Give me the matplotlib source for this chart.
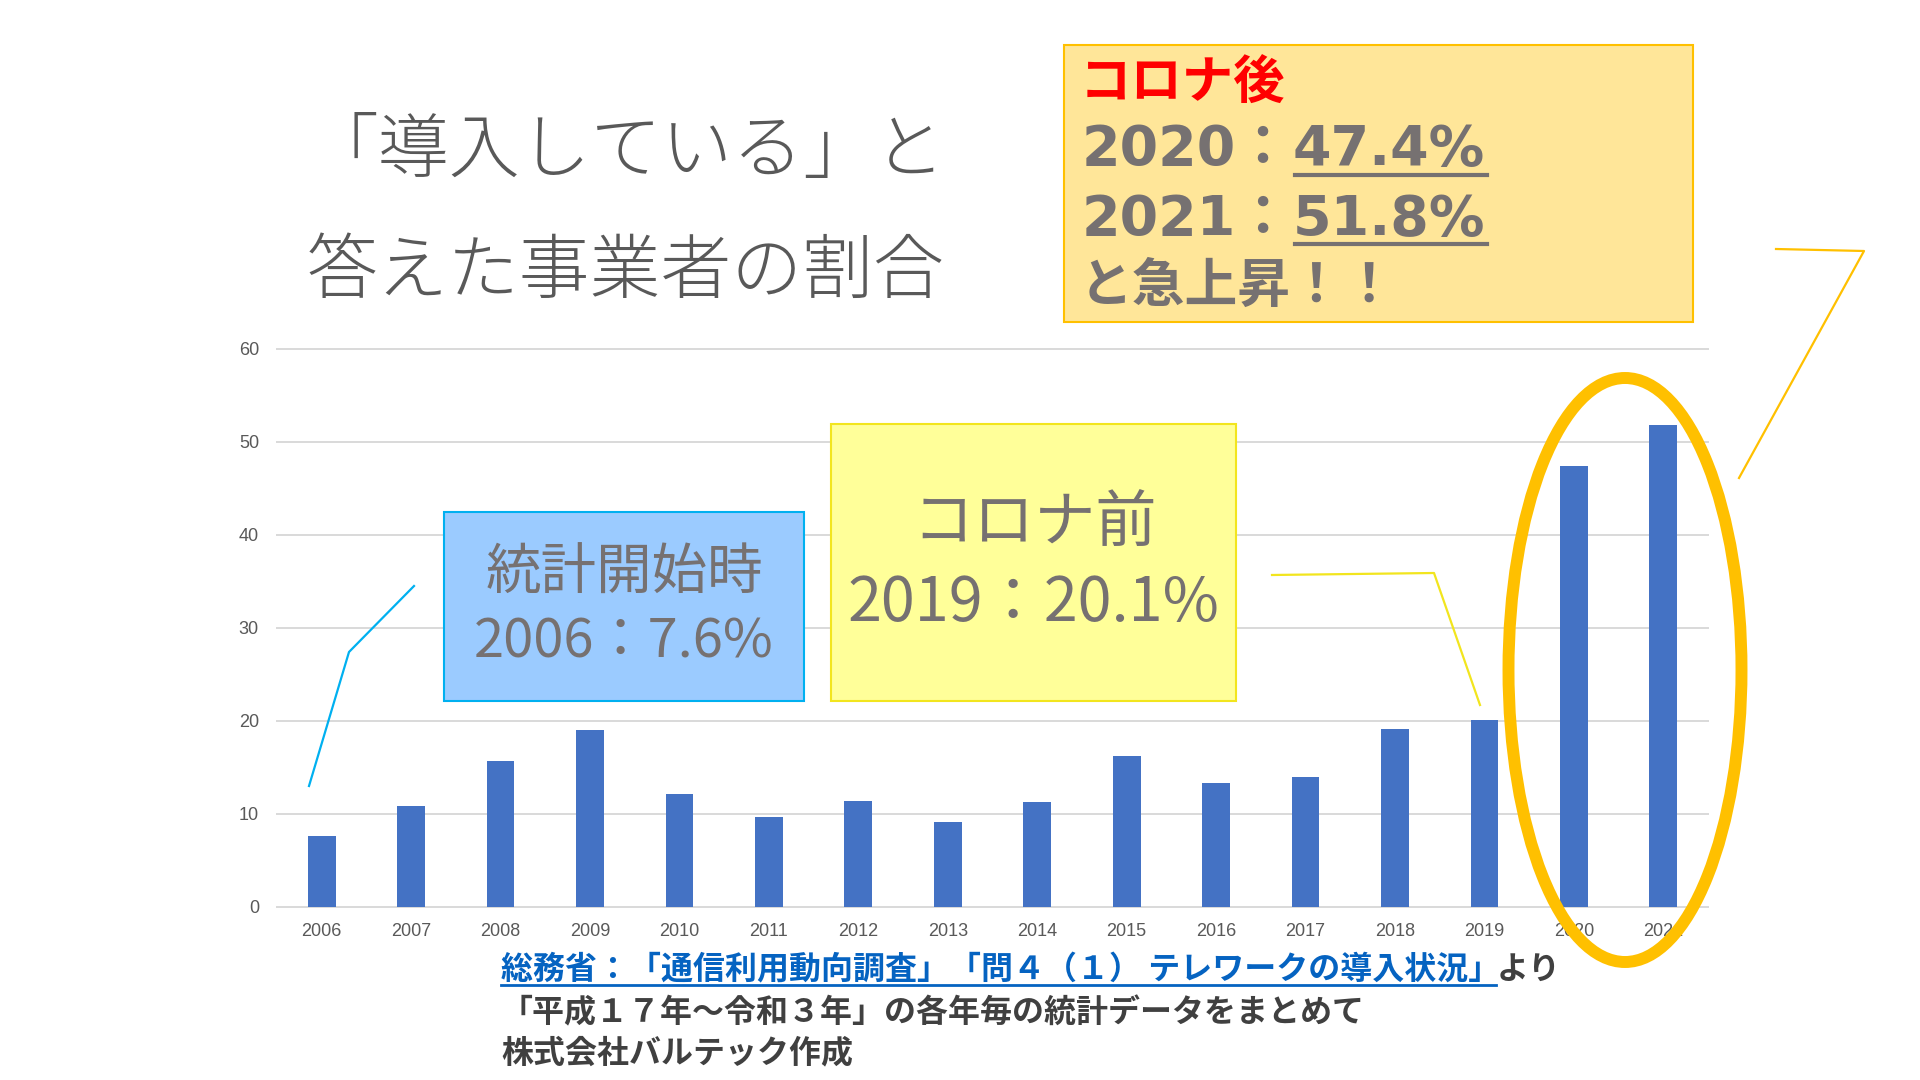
import matplotlib
matplotlib.use("Agg")
import matplotlib.pyplot as plt
from matplotlib.patches import Rectangle, Ellipse

# データ（テレワーク導入率 %）
years = ['2006', '2007', '2008', '2009', '2010', '2011', '2012', '2013',
         '2014', '2015', '2016', '2017', '2018', '2019', '2020', '2021']
rates = [7.6, 10.8, 15.7, 19.0, 12.1, 9.6, 11.4, 9.1,
         11.3, 16.2, 13.3, 13.9, 19.1, 20.1, 47.4, 51.8]
yticks = [0, 10, 20, 30, 40, 50, 60]

title_lines = ['「導入している」と', '答えた事業者の割合']
source_link = '総務省：「通信利用動向調査」「問４（１） テレワークの導入状況」'
source_tail = 'より'
source_line2 = '「平成１７年～令和３年」の各年毎の統計データをまとめて'
source_line3 = '株式会社バルテック作成'

JP = ['Noto Sans CJK JP', 'DejaVu Sans']
NUM = ['DejaVu Sans', 'Noto Sans CJK JP']
gray = '#767171'
dark = '#404040'

fig = plt.figure(figsize=(19.2, 10.8), dpi=100, facecolor='white')

# 棒グラフ
ax = fig.add_axes([277/1920, 1 - 906.7/1080, (1708 - 277)/1920, (906.7 - 348.7)/1080])
ax.bar(range(len(years)), rates, width=0.31, color='#4472C4', zorder=2)
ax.set_xlim(-0.5, len(years) - 0.5)
ax.set_ylim(0, 60)
ax.set_yticks(yticks)
ax.set_xticks(range(len(years)))
ax.set_xticklabels(years)
ax.yaxis.grid(True, color='#D9D9D9', lw=1.4, zorder=0)
ax.set_axisbelow(True)
for s in ax.spines.values():
    s.set_visible(False)
ax.tick_params(length=0, labelcolor='#595959', labelsize=13)
ax.tick_params(axis='x', pad=12)
ax.tick_params(axis='y', pad=13)
for lab in ax.get_xticklabels() + ax.get_yticklabels():
    lab.set_family('Liberation Sans')
for gl in ax.get_ygridlines():
    gl.set_clip_on(False)

# 注釈用（ピクセル座標）
ov = fig.add_axes([0, 0, 1, 1], zorder=5)
ov.set_xlim(0, 1920)
ov.set_ylim(1080, 0)
ov.axis('off')

# タイトル
ov.text(626, 152, title_lines[0], ha='center', va='center', fontsize=51,
        color='#595959', family=JP, fontweight='light')
ov.text(626, 273, title_lines[1], ha='center', va='center', fontsize=51,
        color='#595959', family=JP, fontweight='light')

# 統計開始時
ov.add_patch(Rectangle((444, 512), 360, 189, facecolor='#9BCBFF', edgecolor='#00B0F0', lw=1.5))
ov.text(624, 574, '統計開始時', ha='center', va='center', fontsize=40, color=gray, family=JP)
ov.text(624, 642, '2006：7.6%', ha='center', va='center', fontsize=39, color=gray, family=JP)
ov.plot([309, 349, 414], [786, 652, 586], color='#00B0F0', lw=1.6)

# コロナ前
ov.add_patch(Rectangle((831, 424), 405, 277, facecolor='#FFFF99', edgecolor='#F2E51E', lw=1.5))
ov.text(1035, 525, 'コロナ前', ha='center', va='center', fontsize=44, color=gray, family=JP)
ov.text(1033, 604, '2019：20.1%', ha='center', va='center', fontsize=44, color=gray, family=JP)
ov.plot([1272, 1434, 1480], [575, 573, 705], color='#F2E51E', lw=1.6)

# コロナ後
ov.add_patch(Rectangle((1064, 45), 629, 277, facecolor='#FFE699', edgecolor='#FFC000', lw=1.5))
ov.text(1080, 83, 'コロナ後', ha='left', va='center', fontsize=37, color='#FF0000',
        family=JP, fontweight='bold')
ov.text(1082, 150, '2020：', ha='left', va='center', fontsize=40, color=gray,
        family=NUM, fontweight='bold')
ov.text(1293, 150, '47.4%', ha='left', va='center', fontsize=40, color=gray,
        family=NUM, fontweight='bold')
ov.text(1082, 220, '2021：', ha='left', va='center', fontsize=40, color=gray,
        family=NUM, fontweight='bold')
ov.text(1293, 220, '51.8%', ha='left', va='center', fontsize=40, color=gray,
        family=NUM, fontweight='bold')
ov.plot([1295, 1487], [175, 175], color=gray, lw=3)
ov.plot([1295, 1487], [244, 244], color=gray, lw=3)
ov.text(1080, 286, 'と急上昇！！', ha='left', va='center', fontsize=38, color=gray,
        family=JP, fontweight='bold')

# 強調の楕円と引き出し線
ov.add_patch(Ellipse((1625, 670), 233, 584, fill=False, edgecolor='#FFC000', lw=8.6))
ov.plot([1739, 1864, 1776], [478, 251, 249], color='#FFC000', lw=1.6)

# 出典
ov.text(501, 970, source_link, ha='left', va='center', fontsize=23, color='#0563C1',
        family=JP, fontweight='bold')
ov.plot([501, 1496], [985, 985], color='#0563C1', lw=2)
ov.text(1497, 970, source_tail, ha='left', va='center', fontsize=23, color=dark,
        family=JP, fontweight='bold')
ov.text(501, 1013, source_line2, ha='left', va='center', fontsize=23, color=dark,
        family=JP, fontweight='bold')
ov.text(501, 1053, source_line3, ha='left', va='center', fontsize=23, color=dark,
        family=JP, fontweight='bold')

fig.savefig('out.png', dpi=100, facecolor='white')
